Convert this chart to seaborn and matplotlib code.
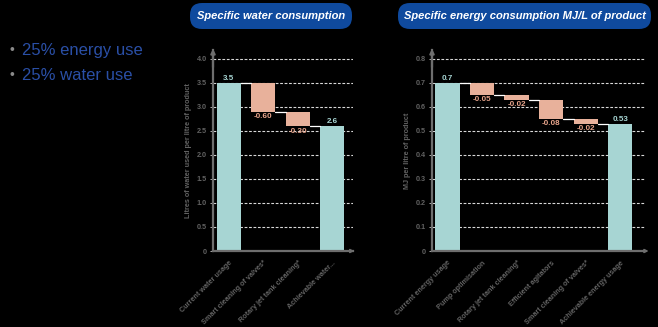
import matplotlib
matplotlib.use("Agg")
import matplotlib.pyplot as plt
from matplotlib.patches import FancyBboxPatch
import seaborn as sns
import pandas as pd

# ---------------- data ----------------
water_categories = ["Current water usage", "Smart cleaning of valves*",
                    "Rotary jet tank cleaning*", "Achievable water..."]
water_values = [3.5, -0.60, -0.30, 2.6]
water_labels = ["3.5", "-0.60", "-0.30", "2.6"]
water_ticks = [0, 0.5, 1.0, 1.5, 2.0, 2.5, 3.0, 3.5, 4.0]
water_ticklabels = ["0", "0.5", "1.0", "1.5", "2.0", "2.5", "3.0", "3.5", "4.0"]

energy_categories = ["Current energy usage", "Pump optimisation",
                     "Rotary jet tank cleaning*", "Efficient agitators",
                     "Smart cleaning of valves*", "Achievable energy usage"]
energy_values = [0.7, -0.05, -0.02, -0.08, -0.02, 0.53]
energy_labels = ["0.7", "-0.05", "-0.02", "-0.08", "-0.02", "0.53"]
energy_ticks = [0, 0.1, 0.2, 0.3, 0.4, 0.5, 0.6, 0.7, 0.8]
energy_ticklabels = ["0", "0.1", "0.2", "0.3", "0.4", "0.5", "0.6", "0.7", "0.8"]

bullets = ["25% energy use", "25% water use"]
titles = ["Specific water consumption", "Specific energy consumption MJ/L of product"]
ylabels = ["Litres of water used per litre of product", "MJ per litre of product"]

# ---------------- style ----------------
sns.set_theme(style="dark")
plt.rcParams['font.family'] = ['Liberation Sans', 'DejaVu Sans']
BG = "black"
TEAL = "#a7d5d3"
SALMON = "#e8b19b"
SALMON_TXT = "#e9a58c"
GRAY = "#6e6e6e"
TICKGRAY = "#626262"
BLUE_BOX = "#0f4a9e"
BLUE_TXT = "#2a4fa6"

W, H = 658, 327
fig = plt.figure(figsize=(W / 100, H / 100), dpi=100, facecolor=BG)


def waterfall(ax, cats, vals, labels, ticks, ticklabels, ylim, xlim, ylabel):
    n = len(vals)
    bottoms, heights, kinds = [], [], []
    level = 0.0
    for i, v in enumerate(vals):
        if i == 0 or i == n - 1:
            bottoms.append(0.0)
            heights.append(v)
            kinds.append("total")
            level = v
        else:
            bottoms.append(level + v)
            heights.append(-v)
            kinds.append("delta")
            level = level + v
    df = pd.DataFrame({"cat": cats, "h": heights, "kind": kinds})
    sns.barplot(data=df, x="cat", y="h", hue="kind",
                palette={"total": TEAL, "delta": SALMON},
                width=0.7, ax=ax, legend=False, saturation=1, zorder=3,
                dodge=False)
    patches = sorted(ax.patches, key=lambda p: p.get_x())
    for p, b, h in zip(patches, bottoms, heights):
        p.set_y(b)
        p.set_height(h)
        p.set_edgecolor("none")
    # connectors
    for i in range(n - 1):
        p0 = patches[i]
        p1 = patches[i + 1]
        y = bottoms[i] if kinds[i] == "delta" else heights[i]
        ax.plot([p0.get_x() + p0.get_width(), p1.get_x()], [y, y],
                color="white", lw=0.9, zorder=4)
    # value labels
    span = ylim[1] - ylim[0]
    for i, (p, lab) in enumerate(zip(patches, labels)):
        cx = p.get_x() + p.get_width() / 2
        if kinds[i] == "total":
            ax.text(cx, bottoms[i] + heights[i] + span * 0.004, lab,
                    ha="center", va="bottom", color=TEAL, fontsize=5.8,
                    fontweight="bold", zorder=5)
        else:
            ax.text(cx, bottoms[i] - span * 0.008, lab,
                    ha="center", va="top", color=SALMON_TXT, fontsize=5.8,
                    fontweight="bold", zorder=5)
    ax.set_facecolor(BG)
    ax.set_xlim(*xlim)
    ax.set_ylim(*ylim)
    ax.set_yticks(ticks)
    ax.set_yticklabels(ticklabels, fontweight="bold")
    ax.tick_params(axis="y", colors="#cfcfcf", labelcolor=TICKGRAY,
                   labelsize=5.2, length=2.5, width=0.6, pad=2, left=True)
    ax.set_xticks(range(n))
    ax.set_xticklabels(cats, rotation=45, ha="right", rotation_mode="anchor",
                       color=TICKGRAY, fontsize=5.2, fontweight="bold")
    ax.tick_params(axis="x", length=0, pad=6)
    for t in ticks[1:]:
        ax.axhline(t, color="#d8d8d8", lw=0.8, ls=(0, (2.5, 1.5)), zorder=1)
    ax.grid(False)
    for s in ["top", "right"]:
        ax.spines[s].set_visible(False)
    for s in ["left", "bottom"]:
        ax.spines[s].set_color(GRAY)
        ax.spines[s].set_linewidth(1.6)
        ax.spines[s].set_zorder(6)
    ax.set_xlabel("")
    ax.set_ylabel(ylabel, color=TICKGRAY, fontsize=5.2, fontweight="bold",
                  labelpad=3)
    ax.annotate("", xy=(0, 1.02), xytext=(0, 0.9), xycoords="axes fraction",
                arrowprops=dict(arrowstyle="-|>", color=GRAY, lw=1.6,
                                mutation_scale=6), annotation_clip=False)
    ax.annotate("", xy=(1.03, 0), xytext=(0.95, 0), xycoords="axes fraction",
                arrowprops=dict(arrowstyle="-|>", color=GRAY, lw=1.2,
                                mutation_scale=5), annotation_clip=False)


ax1 = fig.add_axes([213 / W, 76 / H, 140 / W, 201 / H])
waterfall(ax1, water_categories, water_values, water_labels, water_ticks,
          water_ticklabels, (0, 4.18), (-0.46, 3.6), ylabels[0])

ax2 = fig.add_axes([432 / W, 76 / H, 213 / W, 201 / H])
waterfall(ax2, energy_categories, energy_values, energy_labels, energy_ticks,
          energy_ticklabels, (0, 0.836), (-0.45, 5.72), ylabels[1])

# title boxes (pill shapes), drawn in pixel units
for (x0, x1), t in zip([(190, 352), (398, 651)], titles):
    y0, y1 = 3, 29
    bw, bh = x1 - x0, y1 - y0
    tax = fig.add_axes([x0 / W, 1 - y1 / H, bw / W, bh / H])
    tax.set_xlim(0, bw)
    tax.set_ylim(0, bh)
    tax.axis("off")
    tax.add_patch(FancyBboxPatch((0, 0), bw, bh,
                                 boxstyle="round,pad=0,rounding_size=12",
                                 facecolor=BLUE_BOX, edgecolor="none",
                                 clip_on=False))
    tax.text(bw / 2, bh / 2, t, ha="center", va="center", color="white",
             fontsize=8, fontstyle="italic", fontweight="bold")

# bullet text
for i, b in enumerate(bullets):
    y = 1 - (50 + i * 25) / H
    fig.text(10 / W, y, "\u2022", ha="left", va="center", color="#8a8a8a",
             fontsize=10)
    fig.text(22 / W, y, b, ha="left", va="center", color=BLUE_TXT,
             fontsize=12)

fig.savefig("out.png", dpi=100, facecolor=BG)
